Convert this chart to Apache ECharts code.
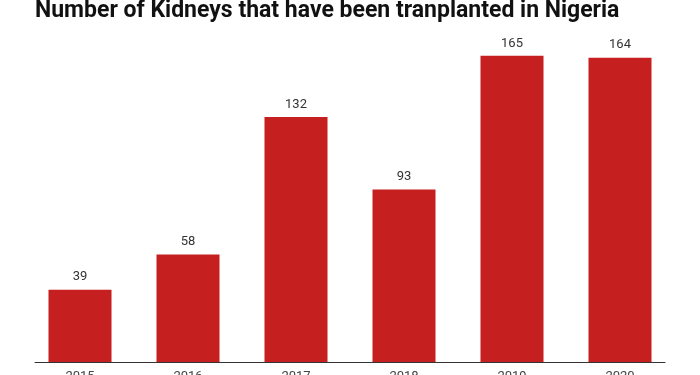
<!DOCTYPE html>
<html>
<head>
<meta charset="utf-8">
<script src="https://cdn.jsdelivr.net/npm/echarts@6/dist/echarts.min.js"></script>
<style>html,body{margin:0;padding:0;background:#fff}#c{width:700px;height:375px}</style>
</head>
<body>
<div id="c"></div>
<script>
const titleText = 'Number of Kidneys that have been tranplanted in Nigeria';
const years = ['2015', '2016', '2017', '2018', '2019', '2020'];
const transplants = [39, 58, 132, 93, 165, 164];

const chart = echarts.init(document.getElementById('c'), null, {renderer: 'canvas'});
chart.setOption({
  animation: false,
  backgroundColor: '#ffffff',
  graphic: [{
    type: 'text',
    x: 35, y: 0,
    style: {
      text: titleText,
      font: 'bold 23px Roboto, sans-serif',
      fill: '#111',
      textVerticalAlign: 'top'
    }
  }],
  grid: [
    {left: 26, right: 26, top: 28, bottom: 13, outerBoundsMode: 'none', containLabel: false},
    {left: 35, right: 35, top: 28, bottom: 13, outerBoundsMode: 'none', containLabel: false}
  ],
  xAxis: [
    {
      type: 'category', data: years, gridIndex: 0,
      axisLine: {show: false}, axisTick: {show: false},
      axisLabel: {margin: 8, fontSize: 13, color: '#444', fontFamily: 'Roboto, sans-serif'}
    },
    {
      type: 'category', data: years, gridIndex: 1,
      axisLine: {show: true, lineStyle: {color: '#333', width: 1}},
      axisTick: {show: false}, axisLabel: {show: false}
    }
  ],
  yAxis: [
    {type: 'value', min: 0, max: 180, gridIndex: 0, show: false, splitLine: {show: false}},
    {type: 'value', min: 0, max: 180, gridIndex: 1, show: false, splitLine: {show: false}}
  ],
  series: [{
    type: 'bar',
    data: transplants,
    xAxisIndex: 0, yAxisIndex: 0,
    barWidth: 63,
    itemStyle: {color: '#c61f1f'},
    label: {show: true, position: 'top', distance: 6, fontSize: 13, color: '#333', fontFamily: 'Roboto, sans-serif'}
  }]
});
</script>
</body>
</html>
